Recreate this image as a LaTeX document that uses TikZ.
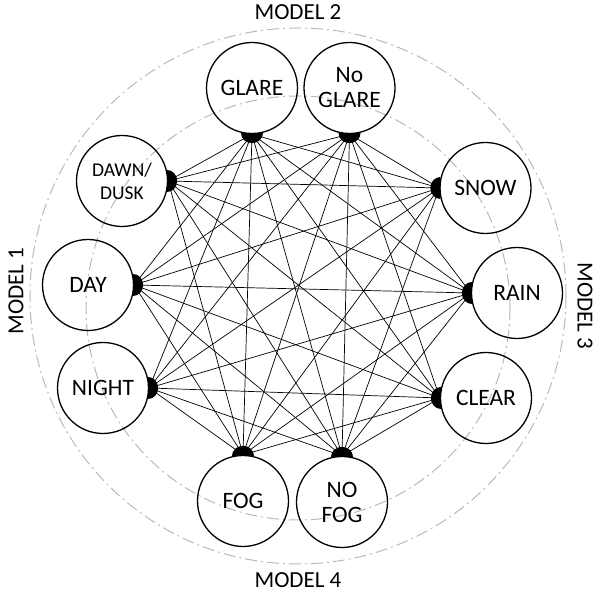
\documentclass[tikz,border=0pt]{standalone}
\usepackage{fontspec}
\setmainfont{Carlito}
\tikzset{
  state/.style={circle, draw, line width=1.3pt, minimum size=91pt, inner sep=0pt,
    font=\fontsize{23.5}{25}\selectfont, align=center},
  edge/.style={line width=0.7pt},
  ring/.style={draw=gray!55, line width=1pt, dash pattern=on 12pt off 4pt on 2pt off 4pt},
  lbl/.style={font=\fontsize{23}{25}\selectfont, inner sep=0pt}
}
\newcommand\blobS[1]{\fill (#1.south) ++(-11pt,1pt) arc[start angle=180,end angle=360,x radius=11pt,y radius=10pt] -- cycle;}
\newcommand\blobN[1]{\fill (#1.north) ++(-11pt,-1pt) arc[start angle=180,end angle=0,x radius=11pt,y radius=10pt] -- cycle;}
\newcommand\blobE[1]{\fill (#1.east) ++(-1pt,11pt) arc[start angle=90,end angle=-90,x radius=10pt,y radius=11pt] -- cycle;}
\newcommand\blobW[1]{\fill (#1.west) ++(1pt,11pt) arc[start angle=90,end angle=270,x radius=10pt,y radius=11pt] -- cycle;}
\begin{document}
\begin{tikzpicture}[x=1pt,y=1pt]
\useasboundingbox (0,0) rectangle (595,593);
% dash-dot rings
\draw[ring] (298,297) circle[radius=268pt];
\draw[ring] (298,285) circle[radius=212pt];
% model labels
\node[lbl] (m2) at (298,581) {MODEL 2};
\node[lbl] (m4) at (298,13) {MODEL 4};
\node[lbl, rotate=90] (m1) at (16,302) {MODEL 1};
\node[lbl, rotate=-90] (m3) at (585,287) {MODEL 3};
% states
\node[state] (glare) at (252,505) {GLARE};
\node[state] (noglare) at (349.5,505) {No\\GLARE};
\node[state, font=\fontsize{19.5}{23}\selectfont] (dd) at (122,412) {DAWN/\\DUSK};
\node[state] (day) at (88,308) {DAY};
\node[state] (night) at (103,205) {NIGHT};
\node[state] (snow) at (485.5,405) {SNOW};
\node[state] (rain) at (517,300) {RAIN};
\node[state] (clear) at (486,195) {CLEAR};
\node[state] (fog) at (243,92) {FOG};
\node[state] (nofog) at (342,91) {NO\\FOG};
% connectors
\foreach \a in {dd.east,day.east,night.east}
  \foreach \b in {glare.south,noglare.south,snow.west,rain.west,clear.west,fog.north,nofog.north}
    \draw[edge] (\a) -- (\b);
\foreach \a in {glare.south,noglare.south}
  \foreach \b in {snow.west,rain.west,clear.west,fog.north,nofog.north}
    \draw[edge] (\a) -- (\b);
\foreach \a in {snow.west,rain.west,clear.west}
  \foreach \b in {fog.north,nofog.north}
    \draw[edge] (\a) -- (\b);
% junction blobs
\blobS{glare}\blobS{noglare}
\blobE{dd}\blobE{day}\blobE{night}
\blobW{snow}\blobW{rain}\blobW{clear}
\blobN{fog}\blobN{nofog}
\end{tikzpicture}
\end{document}
